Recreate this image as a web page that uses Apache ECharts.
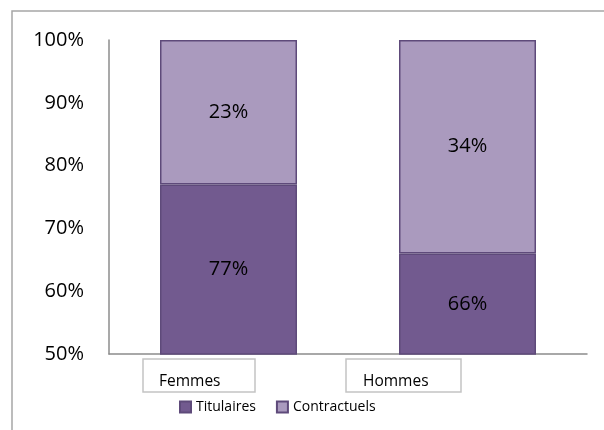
<!DOCTYPE html>
<html>
<head>
<meta charset="utf-8">
<script src="https://cdn.jsdelivr.net/npm/echarts@6/dist/echarts.min.js"></script>
<style>
  html, body { margin: 0; padding: 0; background: #fff; }
  #chart { width: 604px; height: 430px; }
</style>
</head>
<body>
<div id="chart"></div>
<script>
var categories = ['Femmes', 'Hommes'];
var titulaires = [77, 66];
var contractuels = [23, 34];
var yTicks = { min: 50, max: 100, step: 10 };

var font = 'Open Sans';
var dark = '#725a8f';
var light = '#aa9abe';
var edge = '#5e4a7a';

var myChart = echarts.init(document.getElementById('chart'));

var option = {
    animation: false,
    textStyle: { fontFamily: font },
    graphic: [{
        type: 'rect',
        shape: { x: 12, y: 11, width: 800, height: 600 },
        style: { fill: 'none', stroke: '#a6a6a6', lineWidth: 1.5 },
        silent: true
    }],
    grid: { left: 109, right: 17, top: 40, bottom: 76, containLabel: false },
    legend: {
        left: 174,
        top: 395,
        itemWidth: 11,
        itemHeight: 11,
        itemGap: 20,
        icon: 'rect',
        textStyle: { fontFamily: font, fontSize: 14, color: '#000' },
        data: ['Titulaires', 'Contractuels']
    },
    xAxis: {
        type: 'category',
        data: categories,
        axisLine: { lineStyle: { color: '#8c8c8c', width: 1.5 } },
        axisTick: { show: false },
        axisLabel: {
            margin: 5,
            interval: 0,
            formatter: function (value, index) {
                return '{a' + index + '|' + value + '}{s' + index + '|}';
            },
            rich: {
                a0: {
                    fontFamily: font, fontSize: 15.5, color: '#000',
                    width: 96, height: 20, padding: [13, 0, 0, 16],
                    align: 'left', verticalAlign: 'bottom',
                    borderColor: '#c4c4c4', borderWidth: 1.5
                },
                a1: {
                    fontFamily: font, fontSize: 15.5, color: '#000',
                    width: 98, height: 20, padding: [13, 0, 0, 17],
                    align: 'left', verticalAlign: 'bottom',
                    borderColor: '#c4c4c4', borderWidth: 1.5
                },
                s0: { width: 59 },
                s1: { width: 128 }
            }
        }
    },
    yAxis: {
        type: 'value',
        min: yTicks.min,
        max: yTicks.max,
        interval: yTicks.step,
        axisLine: { show: true, lineStyle: { color: '#8c8c8c', width: 1.5 } },
        axisTick: { show: false },
        splitLine: { show: false },
        axisLabel: {
            margin: 25,
            fontFamily: font,
            fontSize: 20,
            color: '#000',
            formatter: '{value}%'
        }
    },
    series: [
        {
            name: 'Titulaires',
            type: 'bar',
            stack: 'total',
            barWidth: 137,
            data: titulaires,
            itemStyle: { color: dark, borderColor: edge, borderWidth: 1.5 },
            label: {
                show: true, position: 'inside', formatter: '{c}%',
                fontFamily: font, fontSize: 20, color: '#000'
            }
        },
        {
            name: 'Contractuels',
            type: 'bar',
            stack: 'total',
            barWidth: 137,
            data: contractuels,
            itemStyle: { color: light, borderColor: edge, borderWidth: 1.5 },
            label: {
                show: true, position: 'inside', formatter: '{c}%',
                fontFamily: font, fontSize: 20, color: '#000'
            }
        }
    ]
};

myChart.setOption(option);
</script>
</body>
</html>
